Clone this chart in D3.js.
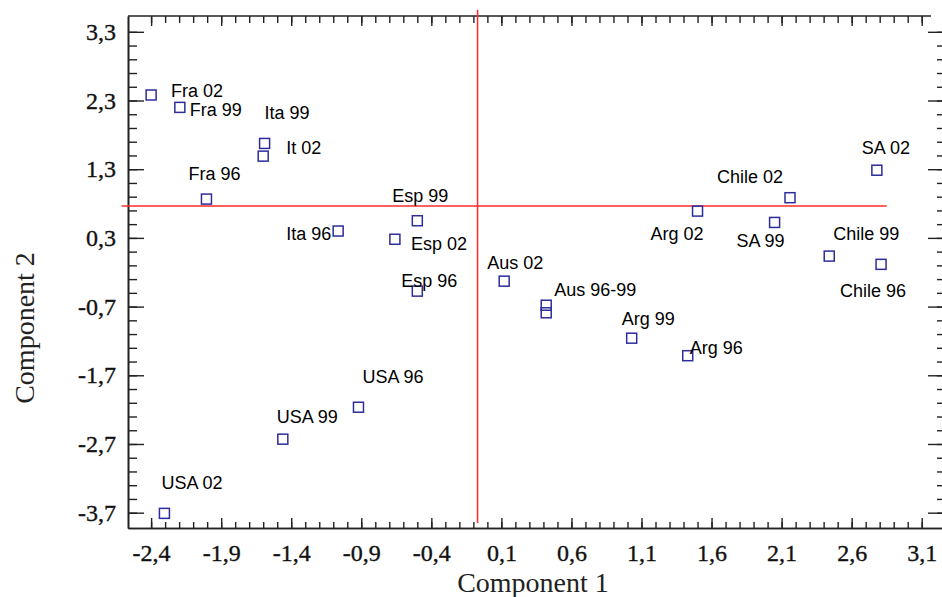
<!DOCTYPE html>
<meta charset="utf-8">
<html lang="en">
<head>
    <title>Component 1 vs Component 2</title>
    <script src="https://d3js.org/d3.v7.min.js"></script>
    <style>
        body { margin: 0; background: white; }
        .tick text { font-family: "Liberation Serif", "Times New Roman", serif; font-size: 24px; fill: #111; stroke: #111; stroke-width: 0.35px; }
        .lbl { font-family: "Liberation Sans", Arial, sans-serif; font-size: 18px; fill: #000; }
        .title { font-family: "Liberation Serif", "Times New Roman", serif; font-size: 28px; fill: #222; }
    </style>
</head>
<body>
<div id="my_dataviz"></div>
<script>

    // point names (the two Aus points share one label)
    var names = ["Fra 02", "Fra 99", "Ita 99", "It 02", "Fra 96", "Ita 96", "Esp 99", "Esp 02", "Esp 96",
                 "Aus 02", "Aus 96-99", "", "Arg 99", "Arg 96", "Arg 02", "Chile 02", "SA 99", "SA 02",
                 "Chile 99", "Chile 96", "USA 96", "USA 99", "USA 02"];

    // Component 1 scores
    var comp1 = [-2.40, -2.195, -1.59, -1.60, -2.005, -1.065, -0.50, -0.66, -0.50,
                 0.12, 0.42, 0.42, 1.03, 1.43, 1.50, 2.16, 2.05, 2.78,
                 2.44, 2.81, -0.92, -1.46, -2.305];

    // Component 2 scores
    var comp2 = [2.38, 2.20, 1.675, 1.49, 0.865, 0.40, 0.55, 0.28, -0.475,
                 -0.33, -0.68, -0.79, -1.16, -1.415, 0.69, 0.885, 0.525, 1.285,
                 0.035, -0.085, -2.165, -2.63, -3.71];

    // tick values
    var xTicks = [-2.4, -1.9, -1.4, -0.9, -0.4, 0.1, 0.6, 1.1, 1.6, 2.1, 2.6, 3.1];
    var yTicks = [3.3, 2.3, 1.3, 0.3, -0.7, -1.7, -2.7, -3.7];

    // red reference lines
    var refX = -0.07;
    var refY = 0.763;

    // label offsets in pixels from the marker, kept apart from the data
    var labelOffset = [[20, 2], [10, 9], [0, -24], [23, -2], [-18, -19], [-52, 9], [-25, -19], [16, 11], [-16, -4],
                       [-17, -12], [8, -9], [0, 0], [-10, -13], [2, -2], [-47, 29], [-73, -15], [-38, 25], [-15, -16],
                       [4, -16], [-41, 33], [4, -24], [-6, -16], [-3, -24]];

    var W = 942, H = 597;
    var pLeft = 128, pRight = 943, pTop = 16, pBottom = 528;

    var svg = d3.select("#my_dataviz")
        .append("svg")
            .attr("width", W)
            .attr("height", H);

    var x = d3.scaleLinear()
        .domain([-2.565, 3.252])
        .range([pLeft, pRight]);

    var y = d3.scaleLinear()
        .domain([-3.923, 3.53])
        .range([pBottom, pTop]);

    // minor ticks
    var xMinor = d3.range(-24, 32).map(function(i) { return i / 10; });
    var yMinor = d3.range(-37, 34, 2).map(function(i) { return i / 10; });

    var fmt = function(v) { return v.toFixed(1).replace(".", ","); };

    function styleAxis(g) {
        g.select(".domain").attr("stroke", "#222").attr("stroke-width", 1.6);
        g.selectAll(".tick line").attr("stroke", "#222").attr("stroke-width", 1.4);
    }

    // bottom axis
    svg.append("g")
        .attr("transform", "translate(0," + pBottom + ")")
        .call(d3.axisBottom(x).tickValues(xMinor).tickSize(-6).tickSizeOuter(0).tickFormat(""))
        .call(styleAxis);
    svg.append("g")
        .attr("transform", "translate(0," + pBottom + ")")
        .call(d3.axisBottom(x).tickValues(xTicks).tickSize(-10).tickSizeOuter(0).tickPadding(16).tickFormat(fmt))
        .call(styleAxis);

    // top axis (the frame line stops short of the right edge)
    svg.append("g")
        .attr("transform", "translate(0," + pTop + ")")
        .call(d3.axisTop(x).tickValues(xMinor).tickSize(-7).tickSizeOuter(0).tickFormat(""))
        .call(styleAxis)
        .call(function(g) { g.select(".domain").remove(); });
    svg.append("g")
        .attr("transform", "translate(0," + pTop + ")")
        .call(d3.axisTop(x).tickValues(xTicks).tickSize(-10).tickSizeOuter(0).tickFormat(""))
        .call(styleAxis)
        .call(function(g) { g.select(".domain").remove(); });
    svg.append("line")
        .attr("x1", pLeft).attr("x2", 931)
        .attr("y1", pTop).attr("y2", pTop)
        .attr("stroke", "#222").attr("stroke-width", 1.6);

    // left axis
    svg.append("g")
        .attr("transform", "translate(" + pLeft + ",0)")
        .call(d3.axisLeft(y).tickValues(yMinor).tickSize(-9).tickSizeOuter(0).tickFormat(""))
        .call(styleAxis);
    svg.append("g")
        .attr("transform", "translate(" + pLeft + ",0)")
        .call(d3.axisLeft(y).tickValues(yTicks).tickSize(-16).tickSizeOuter(0).tickPadding(12).tickFormat(fmt))
        .call(styleAxis);

    // right axis
    svg.append("g")
        .attr("transform", "translate(" + pRight + ",0)")
        .call(d3.axisRight(y).tickValues(yMinor).tickSize(-6).tickSizeOuter(0).tickFormat(""))
        .call(styleAxis);
    svg.append("g")
        .attr("transform", "translate(" + pRight + ",0)")
        .call(d3.axisRight(y).tickValues(yTicks).tickSize(-15).tickSizeOuter(0).tickFormat(""))
        .call(styleAxis);

    // red lines
    svg.append("line")
        .attr("x1", x(refX)).attr("x2", x(refX))
        .attr("y1", y(3.62)).attr("y2", y(-3.85))
        .attr("stroke", "#ff2a2a").attr("stroke-width", 1.5);
    svg.append("line")
        .attr("x1", x(-2.61)).attr("x2", x(2.85))
        .attr("y1", y(refY)).attr("y2", y(refY))
        .attr("stroke", "#ff2a2a").attr("stroke-width", 1.5);

    var data = names.map(function(n, i) {
        return {name: n, c1: comp1[i], c2: comp2[i], off: labelOffset[i]};
    });

    // square markers
    var s = 10;
    svg.append("g")
        .selectAll("rect")
        .data(data)
        .enter()
        .append("rect")
        .attr("x", function(d) { return x(d.c1) - s / 2; })
        .attr("y", function(d) { return y(d.c2) - s / 2; })
        .attr("width", s)
        .attr("height", s)
        .attr("fill", "none")
        .attr("stroke", "#2d2d9c")
        .attr("stroke-width", 1.5);

    // point labels
    svg.append("g")
        .selectAll("text")
        .data(data)
        .enter()
        .append("text")
        .attr("class", "lbl")
        .attr("x", function(d) { return x(d.c1) + d.off[0]; })
        .attr("y", function(d) { return y(d.c2) + d.off[1]; })
        .text(function(d) { return d.name; });

    // axis titles
    svg.append("text")
        .attr("class", "title")
        .attr("x", 533)
        .attr("y", 592)
        .style("text-anchor", "middle")
        .text("Component 1");

    svg.append("text")
        .attr("class", "title")
        .attr("transform", "translate(34,328) rotate(-90)")
        .style("text-anchor", "middle")
        .text("Component 2");

</script>
</body>
</html>
